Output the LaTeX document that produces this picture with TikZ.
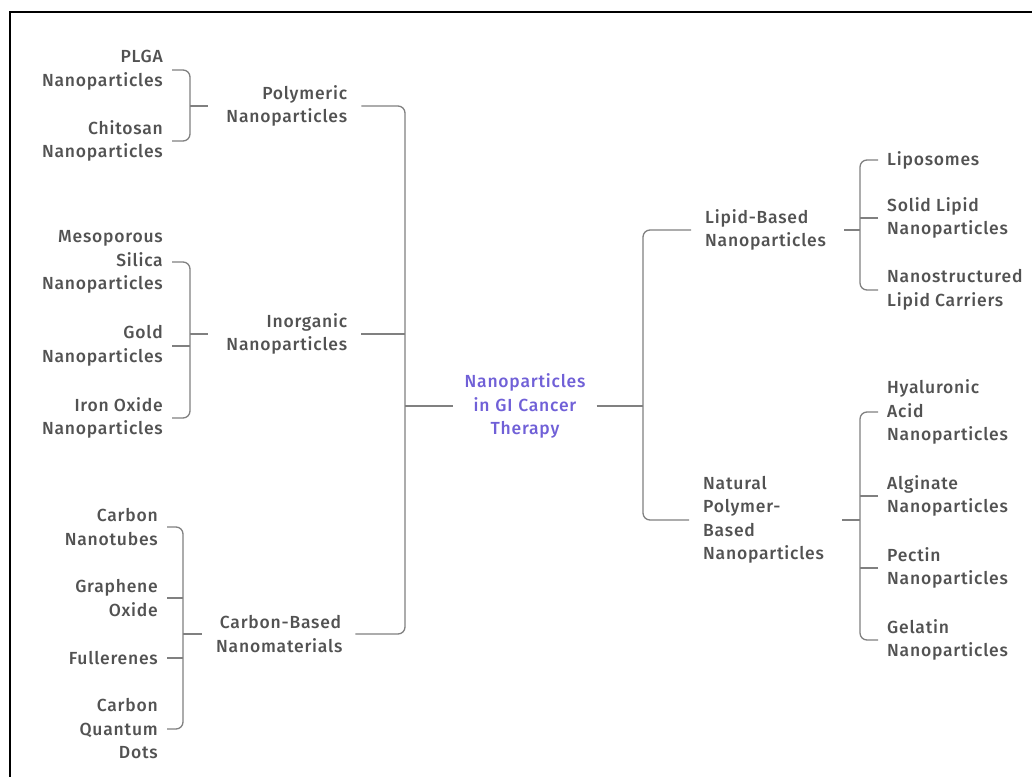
\documentclass[tikz,border=0pt]{standalone}
\usepackage{fontspec}
\setmainfont{Fira Sans Medium}[LetterSpace=4.5]
\definecolor{txt}{RGB}{82,82,82}
\definecolor{lin}{RGB}{128,128,128}
\definecolor{root}{RGB}{112,96,215}
\tikzset{
  base/.style={inner ysep=0pt,font=\fontsize{17.5}{23.5}\selectfont,text=txt},
  leafl/.style={base,anchor=east,align=right,inner xsep=9pt},
  leafr/.style={base,anchor=west,align=left,inner xsep=9pt},
  midl/.style={base,anchor=west,align=right,text width=125pt,inner xsep=14pt},
  midr/.style={base,anchor=west,align=left,text width=125pt,inner xsep=14pt},
  rootnode/.style={base,align=center,text width=125pt,inner xsep=9pt,text=root},
  conn/.style={draw=lin,line width=1.3pt},
  br/.style={conn,rounded corners=7pt}
}
\begin{document}
\begin{tikzpicture}[x=1pt,y=-1pt]
\useasboundingbox (0,0) rectangle (1032,776);
\draw[line width=2pt,black] (10,777) -- (10,12) -- (1033,12);
% left leaves
\node[leafl] (plga) at (172,70) {PLGA\\Nanoparticles};
\node[leafl] (chit) at (172,141) {Chitosan\\Nanoparticles};
\node[leafl] (meso) at (172,262) {Mesoporous\\Silica\\Nanoparticles};
\node[leafl] (gold) at (172,346) {Gold\\Nanoparticles};
\node[leafl] (iron) at (172,418) {Iron Oxide\\Nanoparticles};
\node[leafl] (cnt) at (167,527) {Carbon\\Nanotubes};
\node[leafl] (go) at (167,598) {Graphene\\Oxide};
\node[leafl] (full) at (167,658) {Fullerenes};
\node[leafl] (cqd) at (167,729) {Carbon\\Quantum\\Dots};
% left mid
\node[midl] (poly) at (208,106) {Polymeric\\Nanoparticles};
\node[midl] (inorg) at (208,334) {Inorganic\\Nanoparticles};
\node[midl] (carb) at (202,634) {Carbon-Based\\Nanomaterials};
\coordinate (b1) at (190,106);
\coordinate (b2) at (190,334);
\coordinate (b3) at (183,634);
% root
\node[rootnode] (root) at (525,406) {Nanoparticles\\in GI Cancer\\Therapy};
\coordinate (m1) at (405,406);
\coordinate (m2) at (643,406);
% right mid
\node[midr] (lipid) at (691,230) {Lipid-Based\\Nanoparticles};
\node[midr] (nat) at (689,520) {Natural\\Polymer-\\Based\\Nanoparticles};
\coordinate (b4) at (860,230);
\coordinate (b5) at (860,520);
% right leaves
\node[leafr] (lipo) at (878,160) {Liposomes};
\node[leafr] (sln) at (878,218) {Solid Lipid\\Nanoparticles};
\node[leafr] (nlc) at (878,290) {Nanostructured\\Lipid Carriers};
\node[leafr] (ha) at (878,412) {Hyaluronic\\Acid\\Nanoparticles};
\node[leafr] (alg) at (878,496) {Alginate\\Nanoparticles};
\node[leafr] (pec) at (878,568) {Pectin\\Nanoparticles};
\node[leafr] (gel) at (878,640) {Gelatin\\Nanoparticles};
% connectors left
\draw[br] (plga.east) -| (b1) |- (chit.east);
\draw[conn] (b1) -- (poly.west);
\draw[br] (meso.east) -| (b2) |- (iron.east);
\draw[conn] (gold.east) -- (gold.east -| b2);
\draw[conn] (b2) -- (inorg.west);
\draw[br] (cnt.east) -| (b3) |- (cqd.east);
\draw[conn] (go.east) -- (go.east -| b3);
\draw[conn] (full.east) -- (full.east -| b3);
\draw[conn] (b3) -- (carb.west);
% main
\draw[br] (poly.east) -| (m1) |- (carb.east);
\draw[conn] (inorg.east) -- (inorg.east -| m1);
\draw[conn] (m1) -- (root.west);
\draw[conn] (root.east) -- (m2);
\draw[br] (lipid.west) -| (m2) |- (nat.west);
% right
\draw[conn] (lipid.east) -- (b4);
\draw[br] (lipo.west) -| (b4) |- (nlc.west);
\draw[conn] (sln.west) -- (sln.west -| b4);
\draw[conn] (nat.east) -- (b5);
\draw[br] (ha.west) -| (b5) |- (gel.west);
\draw[conn] (alg.west) -- (alg.west -| b5);
\draw[conn] (pec.west) -- (pec.west -| b5);
\end{tikzpicture}
\end{document}
